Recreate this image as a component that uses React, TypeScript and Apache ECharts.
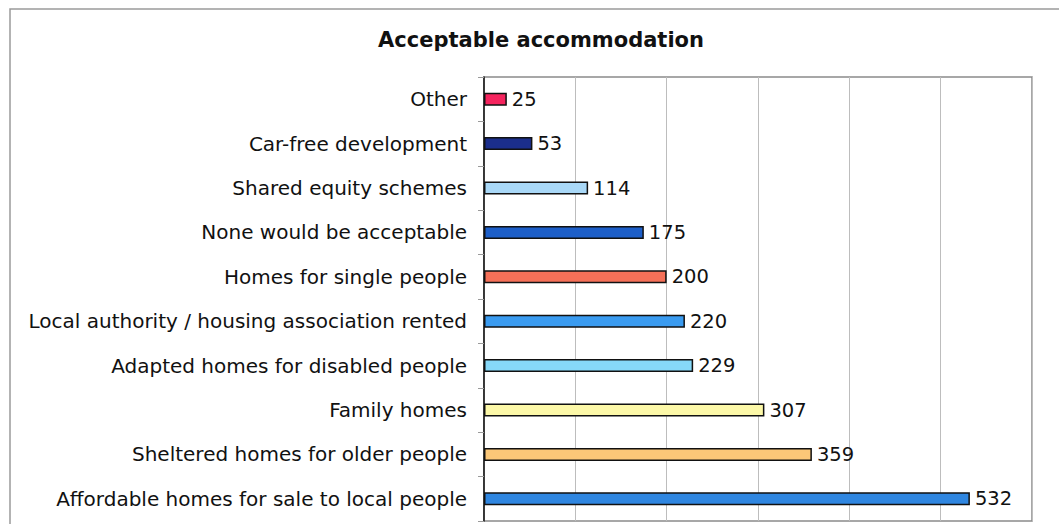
import React, { useEffect, useRef } from "react";
import * as echarts from "echarts";

const categories = [
  "Other",
  "Car-free development",
  "Shared equity schemes",
  "None would be acceptable",
  "Homes for single people",
  "Local authority / housing association rented",
  "Adapted homes for disabled people",
  "Family homes",
  "Sheltered homes for older people",
  "Affordable homes for sale to local people",
];
const values = [25, 53, 114, 175, 200, 220, 229, 307, 359, 532];
const barColors = [
  "#f5245e",
  "#1b2e8c",
  "#a9d8f7",
  "#1d5fc9",
  "#f57058",
  "#3a9bf0",
  "#86d8f8",
  "#fcf8a8",
  "#fbc778",
  "#2f86e0",
];
const titleText = "Acceptable accommodation";
const xMin = 0;
const xMax = 600;
const xInterval = 100;

const FONT = "DejaVu Sans";

export default function App() {
  const ref = useRef<HTMLDivElement>(null);
  useEffect(() => {
    document.body.style.margin = "0";
    const chart = echarts.init(ref.current!, undefined, { renderer: "svg" });
    chart.setOption({
      animation: false,
      backgroundColor: "#ffffff",
      grid: {
        left: 484,
        top: 77,
        right: 27,
        bottom: 3,
        show: true,
        borderColor: "#8a8a8a",
        borderWidth: 1.5,
        containLabel: false,
      },
      graphic: [
        {
          type: "rect",
          shape: { x: 10, y: 9, width: 1060, height: 540 },
          style: { fill: "none", stroke: "#9a9a9a", lineWidth: 1.5 },
          silent: true,
          z: -1,
        },
        {
          type: "text",
          x: 541,
          y: 40,
          style: {
            text: titleText,
            fontFamily: FONT,
            fontWeight: "bold",
            fontSize: 21,
            fill: "#111111",
            align: "center",
            verticalAlign: "middle",
          },
        },
      ],
      xAxis: {
        type: "value",
        min: xMin,
        max: xMax,
        interval: xInterval,
        axisLabel: { show: false },
        axisTick: { show: false },
        axisLine: { show: false },
        splitLine: { show: true, lineStyle: { color: "#bdbdbd", width: 1 } },
      },
      yAxis: {
        type: "category",
        data: categories,
        inverse: true,
        axisLine: { show: true, lineStyle: { color: "#111111", width: 1.5 } },
        axisTick: { show: true, length: 6, lineStyle: { color: "#9a9a9a" } },
        axisLabel: {
          fontFamily: FONT,
          fontSize: 20,
          color: "#111111",
          margin: 17,
        },
      },
      series: [
        {
          type: "bar",
          data: values.map((v, i) => ({
            value: v,
            itemStyle: { color: barColors[i] },
          })),
          barWidth: 13,
          itemStyle: { borderColor: "#111111", borderWidth: 1.5 },
          label: {
            show: true,
            position: "right",
            distance: 5,
            fontFamily: FONT,
            fontSize: 19.5,
            color: "#111111",
          },
        },
      ],
    });
    return () => chart.dispose();
  }, []);
  return <div ref={ref} style={{ width: 1059, height: 524 }} />;
}
